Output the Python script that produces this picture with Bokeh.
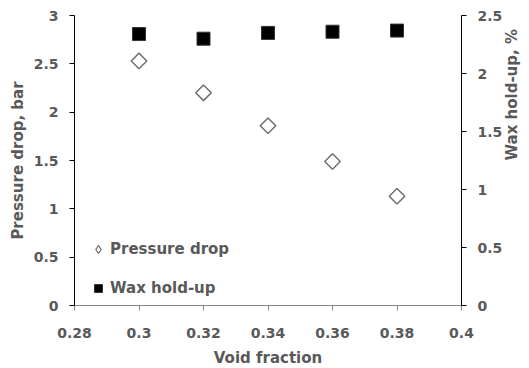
import math
from bokeh.plotting import figure
from bokeh.models import (Range1d, LinearAxis, FixedTicker, CustomJSTickFormatter,
                          Legend, LegendItem, ColumnDataSource)
from bokeh.embed import file_html
from bokeh.resources import INLINE

void_fraction = [0.30, 0.32, 0.34, 0.36, 0.38]
pressure_drop = [2.53, 2.20, 1.86, 1.49, 1.13]
wax_holdup = [2.34, 2.30, 2.35, 2.36, 2.37]

x_ticks = [0.28, 0.30, 0.32, 0.34, 0.36, 0.38, 0.40]
left_ticks = [0, 0.5, 1, 1.5, 2, 2.5, 3]
right_ticks = [0, 0.5, 1, 1.5, 2, 2.5]

FONT = "DejaVu Sans"
GRAY = "#595959"

p = figure(frame_width=387, frame_height=290, output_backend="svg", toolbar_location=None,
           x_range=Range1d(0.28, 0.40), y_range=Range1d(0, 3),
           min_border_left=74, min_border_top=15, min_border_right=60, min_border_bottom=55)
p.outline_line_color = None
p.xgrid.visible = False
p.ygrid.visible = False
p.background_fill_color = "white"
p.border_fill_color = "white"

# "wax" = right axis range; "key" = a range that keeps the legend-key renderer out of the frame
p.extra_y_ranges = {"wax": Range1d(0, 2.5), "key": Range1d(100, 101)}

fmt = CustomJSTickFormatter(code="""
let s = tick.toFixed(2);
if (s.indexOf('.') >= 0) { s = s.replace(/0+$/, '').replace(/\\.$/, ''); }
return s;
""")

def style(ax, line_color):
    ax.axis_line_color = line_color
    ax.major_tick_line_color = line_color
    ax.minor_tick_line_color = None
    ax.major_tick_in = 0
    ax.major_tick_out = 5
    ax.major_label_text_font = FONT
    ax.major_label_text_font_style = "bold"
    ax.major_label_text_font_size = "14px"
    ax.major_label_text_color = GRAY
    ax.axis_label_text_font = FONT
    ax.axis_label_text_font_style = "bold"
    ax.axis_label_text_font_size = "15px"
    ax.axis_label_text_color = GRAY
    ax.formatter = fmt

xa = p.xaxis[0]
xa.ticker = FixedTicker(ticks=x_ticks)
xa.axis_label = "Void fraction"
style(xa, "#868686")
xa.major_label_standoff = 17
xa.axis_label_standoff = 8

ya = p.yaxis[0]
ya.ticker = FixedTicker(ticks=left_ticks)
ya.axis_label = "Pressure drop, bar"
style(ya, "#000000")
ya.major_label_standoff = 11
ya.axis_label_standoff = 4

ra = LinearAxis(y_range_name="wax", ticker=FixedTicker(ticks=right_ticks),
                axis_label="Wax hold-up, %")
style(ra, "#000000")
ra.major_label_standoff = 11
ra.axis_label_standoff = 7
ra.axis_label_orientation = math.pi / 2
p.add_layout(ra, "right")

src = ColumnDataSource(dict(x=void_fraction, pd=pressure_drop, wax=wax_holdup))
r1 = p.scatter("x", "pd", source=src, marker="square", angle=math.pi / 4, size=11,
               fill_color="white", line_color="#707070", line_width=1.5)
r2 = p.scatter("x", "wax", source=src, marker="square", size=13, y_range_name="wax",
               fill_color="black", line_color="#333333", line_width=1)
# legend-key glyph (diamond shape); its points fall outside the frame
r1_key = p.scatter("x", "pd", source=src, y_range_name="key",
                   marker="diamond", size=10,
                   fill_color="white", line_color="#707070", line_width=1.3)

legend = Legend(items=[LegendItem(label="Pressure drop", renderers=[r1_key]),
                       LegendItem(label="Wax hold-up", renderers=[r2])],
                location=(14, 7), border_line_color=None, background_fill_alpha=0,
                label_text_font=FONT, label_text_font_style="bold",
                label_text_font_size="15px", label_text_color=GRAY,
                glyph_width=20, glyph_height=20, spacing=19, padding=4,
                label_standoff=2, margin=0)
p.add_layout(legend, "center")

open("out.html", "w").write(file_html(p, INLINE))
